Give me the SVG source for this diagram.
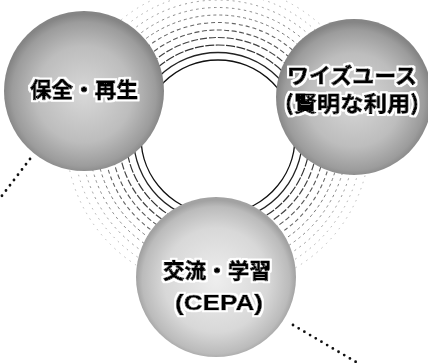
<svg xmlns="http://www.w3.org/2000/svg" width="428" height="363" viewBox="0 0 428 363">
<style>
.ring{fill:none}
.r0{stroke:#111;stroke-width:1.4}
.r1{stroke:#222;stroke-width:1.3}
.r2{stroke:#333;stroke-width:1.2;stroke-dasharray:9 1.5}
.r3{stroke:#444;stroke-width:1.2;stroke-dasharray:7 2}
.r4{stroke:#555;stroke-width:1.1;stroke-dasharray:5 2.5}
.r5{stroke:#666;stroke-width:1.1;stroke-dasharray:4 3}
.r6{stroke:#777;stroke-width:1;stroke-dasharray:3 3}
.r7{stroke:#888;stroke-width:1;stroke-dasharray:2.5 3.5}
.r8{stroke:#999;stroke-width:1;stroke-dasharray:2 4}
.r9{stroke:#aaa;stroke-width:1;stroke-dasharray:1.5 4.5}
.r10{stroke:#bbb;stroke-width:1;stroke-dasharray:1.5 5}
.dots{stroke:#111;stroke-width:2.8;stroke-linecap:round;stroke-dasharray:0 6.6;fill:none}
.jp{font-family:"Noto Sans CJK JP","Noto Sans CJK SC",sans-serif;font-weight:700;font-size:21px;fill:#000;stroke:#000;stroke-width:0.9;stroke-linejoin:round;text-anchor:middle;filter:url(#halo)}
.lat{font-family:"Liberation Sans",Arial,sans-serif;font-weight:700;font-size:22px;fill:#000;stroke:#000;stroke-width:0.6;stroke-linejoin:round;text-anchor:middle;filter:url(#halo)}
</style>
<defs>
<filter id="halo" x="-10%" y="-40%" width="120%" height="180%">
<feMorphology in="SourceAlpha" operator="dilate" radius="1.6" result="d"/>
<feFlood flood-color="#ffffff"/>
<feComposite in2="d" operator="in" result="w"/>
<feMerge><feMergeNode in="w"/><feMergeNode in="SourceGraphic"/></feMerge>
</filter>
<radialGradient id="gDark" cx="50%" cy="52%" r="50%">
<stop offset="0" stop-color="#d8d8d8"/>
<stop offset="0.6" stop-color="#bdbdbd"/>
<stop offset="0.9" stop-color="#9c9c9c"/>
<stop offset="1" stop-color="#858585"/>
</radialGradient>
<radialGradient id="gLight" cx="50%" cy="52%" r="50%">
<stop offset="0" stop-color="#eeeeee"/>
<stop offset="0.65" stop-color="#d8d8d8"/>
<stop offset="0.92" stop-color="#bbbbbb"/>
<stop offset="1" stop-color="#a2a2a2"/>
</radialGradient>
</defs>
<rect width="428" height="363" fill="#fff"/>
<g id="connectors">
<circle class="ring r10" cx="218" cy="137" r="152"/>
<circle class="ring r9" cx="218" cy="137" r="144.5"/>
<circle class="ring r8" cx="218" cy="137" r="137"/>
<circle class="ring r7" cx="218" cy="137" r="129.5"/>
<circle class="ring r6" cx="218" cy="137" r="122"/>
<circle class="ring r5" cx="218" cy="137" r="114.5"/>
<circle class="ring r4" cx="218" cy="137" r="107"/>
<circle class="ring r3" cx="218" cy="137" r="99.5"/>
<circle class="ring r2" cx="218" cy="137" r="92"/>
<circle class="ring r1" cx="218" cy="137" r="84.5"/>
<circle class="ring r0" cx="218" cy="137" r="77"/>
<line class="dots" x1="30" y1="159" x2="1" y2="197"/>
<line class="dots" x1="293" y1="325" x2="356" y2="362"/>
</g>
<g id="node-hozen">
<circle cx="84" cy="91" r="80" fill="url(#gDark)"/>
<text class="jp" x="84" y="97" textLength="108" lengthAdjust="spacingAndGlyphs">保全・再生</text>
</g>
<g id="node-wiseuse">
<circle cx="354" cy="97" r="78" fill="url(#gDark)"/>
<text class="jp" x="352" y="83" font-size="20" textLength="130" lengthAdjust="spacingAndGlyphs">ワイズユース</text>
<text class="jp" x="352" y="111" font-size="20" textLength="134" lengthAdjust="spacingAndGlyphs">(賢明な利用)</text>
</g>
<g id="node-cepa">
<circle cx="216" cy="277" r="80" fill="url(#gLight)"/>
<text class="jp" x="217" y="278" textLength="108" lengthAdjust="spacingAndGlyphs">交流・学習</text>
<text class="lat" x="219" y="310" textLength="88" lengthAdjust="spacingAndGlyphs">(CEPA)</text>
</g>
</svg>
